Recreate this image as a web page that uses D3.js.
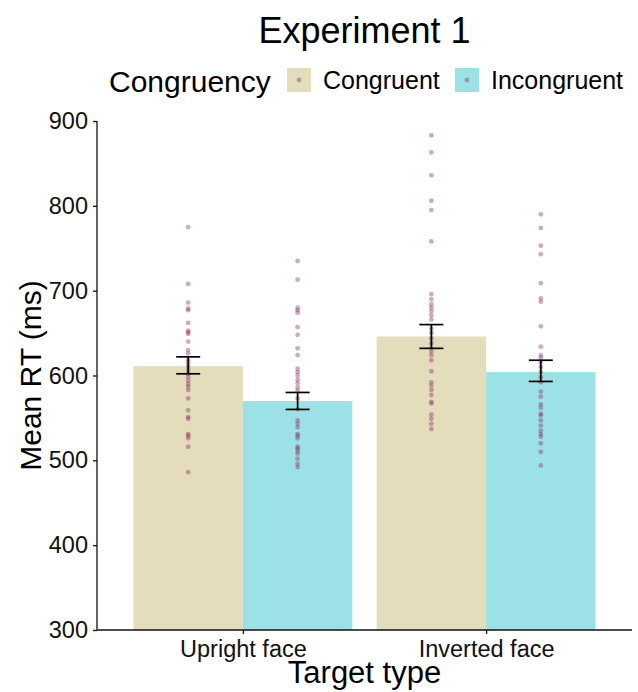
<!DOCTYPE html>
<html>
<head>
<meta charset="utf-8">
<script src="https://cdn.jsdelivr.net/npm/d3@7"></script>
<style>
  body { margin: 0; background: #fff; }
  text { font-family: "Liberation Sans", Arial, sans-serif; fill: #000; }
</style>
</head>
<body>
<div id="my_dataviz"></div>
<script>

let targetTypes = ["Upright face", "Inverted face"]
let congruency = ["Congruent", "Incongruent"]
let yTicks = [300, 400, 500, 600, 700, 800, 900]

// bar means and standard error limits [type][congruency]
let meanRT = [[611, 570], [646, 604]]
let seLow = [[602, 560], [632, 593]]
let seHigh = [[622, 580], [660, 618]]

// individual participant means
let uprightCongruent = [775, 708, 686, 679, 677, 662, 653, 651, 649, 640, 630, 626, 618, 614, 610, 606,
  602, 598, 594, 590, 587, 583, 573, 559, 551, 549, 531, 529, 526, 516, 486]
let uprightIncongruent = [735, 713, 680, 677, 674, 657, 648, 632, 624, 608, 604, 600, 595, 591, 586, 582,
  573, 560, 547, 543, 539, 531, 529, 526, 516, 514, 511, 508, 502, 496, 492]
let invertedCongruent = [883, 863, 836, 806, 795, 758, 696, 690, 684, 680, 676, 671, 666, 655, 650, 644,
  638, 632, 628, 624, 618, 605, 592, 588, 583, 577, 569, 567, 554, 549, 543, 537]
let invertedIncongruent = [790, 774, 753, 743, 709, 691, 687, 658, 634, 624, 621, 616, 610, 604, 598, 592,
  581, 575, 566, 562, 555, 553, 547, 541, 535, 531, 528, 520, 510, 494]

let points = [[uprightCongruent, uprightIncongruent], [invertedCongruent, invertedIncongruent]]

let colors = d3.scaleOrdinal()
  .domain(congruency)
  .range(["#e3ddbc", "#9ce1e6"])

let margin = { top: 121, right: 6, bottom: 62, left: 97 },
  width = 638 - margin.left - margin.right,
  height = 692 - margin.top - margin.bottom

let svg = d3.select("#my_dataviz")
  .append("svg")
  .attr("width", 638)
  .attr("height", 692)

let g = svg.append("g")
  .attr("transform", "translate(" + margin.left + "," + margin.top + ")")

// discrete positions 1..n, ggplot style expansion of 0.6
let x = d3.scaleLinear()
  .domain([0.4, targetTypes.length + 0.6])
  .range([0, width])

let y = d3.scaleLinear()
  .domain([300, 900])
  .range([height, 0])

let barW = 0.45

let cells = []
targetTypes.forEach((t, i) => {
  congruency.forEach((c, j) => {
    cells.push({
      type: t, cong: c,
      x0: i + 1 - barW + j * barW,
      mid: i + 1 - barW / 2 + j * barW,
      mean: meanRT[i][j], lo: seLow[i][j], hi: seHigh[i][j],
      pts: points[i][j]
    })
  })
})

g.selectAll(".bar")
  .data(cells)
  .enter()
  .append("rect")
  .attr("x", d => x(d.x0))
  .attr("y", d => y(d.mean))
  .attr("width", d => x(d.x0 + barW) - x(d.x0))
  .attr("height", d => y(300) - y(d.mean))
  .style("fill", d => colors(d.cong))

let dots = g.append("g")
cells.forEach(d => {
  dots.selectAll(null)
    .data(d.pts)
    .enter()
    .append("circle")
    .attr("cx", x(d.mid))
    .attr("cy", v => y(v))
    .attr("r", 2.4)
    .style("fill", "#8a2a5e")
    .style("opacity", 0.4)
})

let err = g.selectAll(".err")
  .data(cells)
  .enter()
  .append("g")
  .style("stroke", "#000")
  .style("stroke-width", 1.7)

err.append("line")
  .attr("x1", d => x(d.mid)).attr("x2", d => x(d.mid))
  .attr("y1", d => y(d.lo)).attr("y2", d => y(d.hi))
err.append("line")
  .attr("x1", d => x(d.mid) - 12).attr("x2", d => x(d.mid) + 12)
  .attr("y1", d => y(d.lo)).attr("y2", d => y(d.lo))
err.append("line")
  .attr("x1", d => x(d.mid) - 12).attr("x2", d => x(d.mid) + 12)
  .attr("y1", d => y(d.hi)).attr("y2", d => y(d.hi))

// axes
let yAxis = g.append("g")
  .call(d3.axisLeft(y).tickValues(yTicks).tickSize(4).tickPadding(5))
yAxis.select(".domain").attr("d", "M0," + y(300) + "V" + y(900))

let xAxis = g.append("g")
  .attr("transform", "translate(0," + height + ")")
  .call(d3.axisBottom(x).tickValues(targetTypes.map((t, i) => i + 1))
    .tickFormat((v, i) => targetTypes[i]).tickSize(4).tickPadding(6))
xAxis.select(".domain").attr("d", "M0,0H" + width)

svg.selectAll(".domain, .tick line")
  .style("stroke", "#111")
  .style("stroke-width", 1.3)
yAxis.selectAll("text").style("font-size", "23.5px").style("fill", "#111")
xAxis.selectAll("text").style("font-size", "23.5px").style("fill", "#111")

// titles
svg.append("text")
  .attr("x", margin.left + width / 2)
  .attr("y", 43)
  .attr("text-anchor", "middle")
  .style("font-size", "36px")
  .text("Experiment 1")

svg.append("text")
  .attr("x", margin.left + width / 2)
  .attr("y", 683)
  .attr("text-anchor", "middle")
  .style("font-size", "31px")
  .text("Target type")

svg.append("text")
  .attr("transform", "translate(41," + (margin.top + height / 2) + ") rotate(-90)")
  .attr("text-anchor", "middle")
  .style("font-size", "30px")
  .text("Mean RT (ms)")

// legend
let legend = svg.append("g")
legend.append("text")
  .attr("x", 109)
  .attr("y", 92)
  .style("font-size", "30px")
  .text("Congruency")

let keyX = [287, 455]
congruency.forEach((c, i) => {
  legend.append("rect")
    .attr("x", keyX[i]).attr("y", 68)
    .attr("width", 24).attr("height", 24)
    .style("fill", colors(c))
  legend.append("circle")
    .attr("cx", keyX[i] + 12).attr("cy", 80)
    .attr("r", 2.4)
    .style("fill", "#8a2a5e")
    .style("opacity", 0.4)
  legend.append("text")
    .attr("x", keyX[i] + 36)
    .attr("y", 89)
    .style("font-size", "25px")
    .text(c)
})

</script>
</body>
</html>
